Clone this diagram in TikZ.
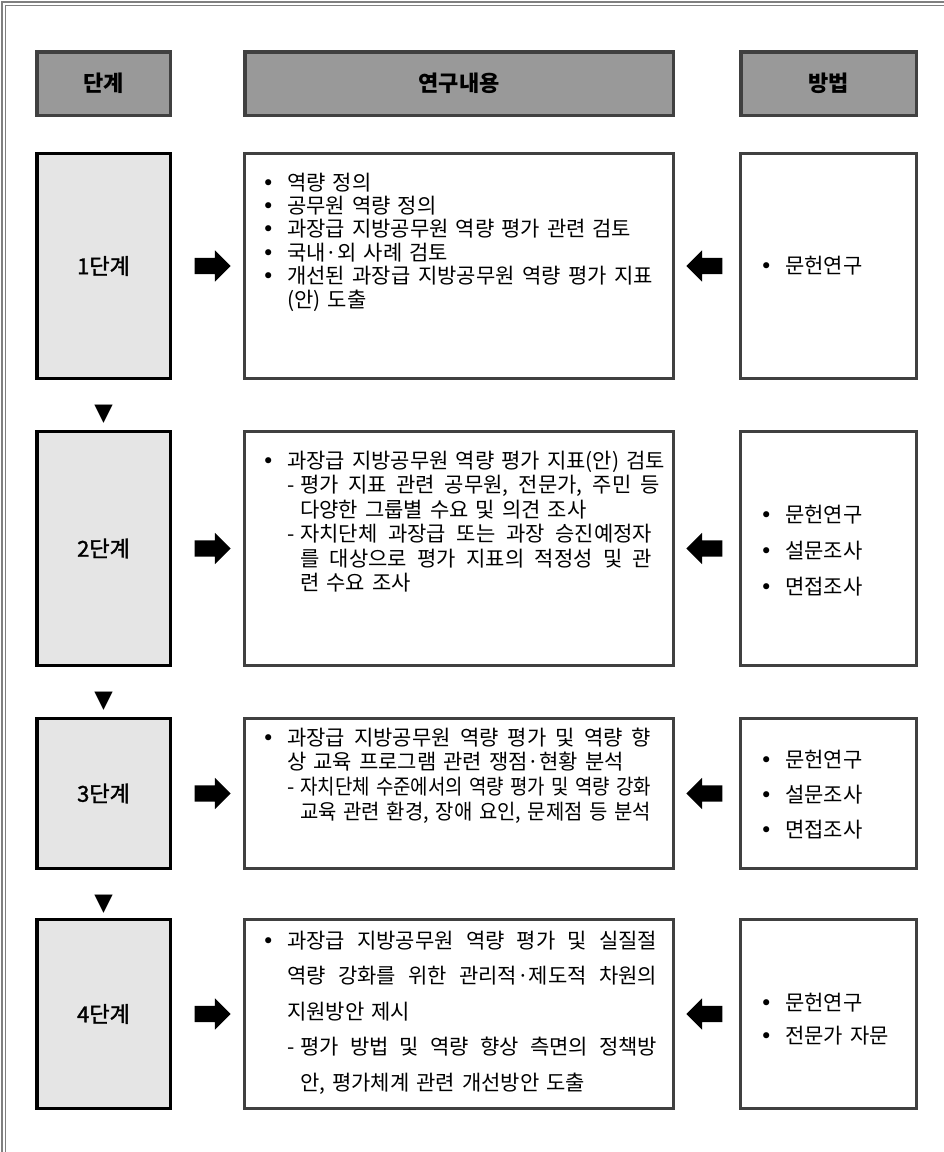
\documentclass[tikz,border=0pt]{standalone}
\usepackage{fontspec}
\usepackage{graphicx}
\setmainfont{Noto Sans CJK KR}
\newfontfamily\symfont{DejaVu Sans}
\newfontfamily\stagefont[FakeBold=1.5]{Noto Sans CJK KR}
\usetikzlibrary{positioning,shapes.arrows}

\definecolor{hdgray}{RGB}{153,153,153}
\definecolor{stgray}{RGB}{229,229,229}
\definecolor{edgegray}{RGB}{64,64,64}
\definecolor{framegray}{RGB}{128,128,128}

\newcommand{\bodyfont}[1]{\fontsize{21}{#1}\selectfont}
\newcommand{\itm}{\leavevmode\llap{\makebox[0pt]{\symfont •}\hspace{19pt}}}
\newcommand{\dsh}{\leavevmode\makebox[13pt][l]{-}}
\newcommand{\ind}{\leavevmode\hspace*{13pt}}
% justified line of a given width
\newcommand{\fitline}[2]{\makebox[#1][s]{\spaceskip=7pt plus 12pt minus 3pt\relax #2}}

\tikzset{
  hdbox/.style={draw=edgegray, fill=hdgray, line width=3.5pt, minimum height=63.5pt, inner sep=0pt, font=\bfseries\fontsize{22}{26}\selectfont},
  stagebox/.style={draw=black, fill=stgray, line width=3.5pt, minimum width=133.5pt, inner sep=0pt, font=\stagefont\fontsize{22}{26}\selectfont},
  contbox/.style={draw=edgegray, line width=3pt, minimum width=429pt, inner sep=0pt},
  methbox/.style={draw=edgegray, line width=3pt, minimum width=176pt, inner sep=0pt},
  bodytext/.style={anchor=base west, inner sep=0pt, text width=400pt, align=left},
  rarrow/.style={single arrow, fill=black, inner sep=0pt, text height=8pt, text depth=8pt, minimum height=36pt, single arrow head extend=7.5pt},
  downtri/.style={font=\symfont\fontsize{24}{24}\selectfont, inner sep=0pt}
}

\begin{document}
\begin{tikzpicture}[x=1pt, y=1pt, node distance=1cm, on grid]
\useasboundingbox (0,0) rectangle (944,-1152);
% frame
\draw[framegray, line width=1.2pt] (2,-1152) -- (2,-2) -- (944,-2);
\draw[framegray, line width=1.2pt] (5.5,-1152) -- (5.5,-5.5) -- (944,-5.5);

% headers
\node[hdbox, minimum width=133.5pt] (h1) at (103.5,-83.5) {단계};
\node[hdbox, minimum width=428.5pt, right=355.5pt of h1] (h2) {연구내용};
\node[hdbox, minimum width=175.5pt, right=369.5pt of h2] (h3) {방법};

% stages
\node[stagebox, minimum height=225pt, below=182.5pt of h1] (s1) {1단계};
\node[stagebox, minimum height=234pt, below=282.5pt of s1] (s2) {2단계};
\node[stagebox, minimum height=150pt, below=245pt of s2] (s3) {3단계};
\node[stagebox, minimum height=189pt, below=220.5pt of s3] (s4) {4단계};

\foreach \s/\t in {s1/t1,s2/t2,s3/t3}
  \node[downtri, below=25pt of \s.south] (\t) {▼};

% content and method boxes
\node[contbox, minimum height=225pt, right=355.5pt of s1] (c1) {};
\node[contbox, minimum height=234pt, right=355.5pt of s2] (c2) {};
\node[contbox, minimum height=150pt, right=355.5pt of s3] (c3) {};
\node[contbox, minimum height=189pt, right=355.5pt of s4] (c4) {};
\node[methbox, minimum height=225pt, right=369.5pt of c1] (m1) {};
\node[methbox, minimum height=234pt, right=369.5pt of c2] (m2) {};
\node[methbox, minimum height=150pt, right=369.5pt of c3] (m3) {};
\node[methbox, minimum height=189pt, right=369.5pt of c4] (m4) {};

% block arrows
\node[rarrow, right=105pt of s1] (r1) {};
\node[rarrow, right=105pt of s2] (r2) {};
\node[rarrow, right=105pt of s3] (r3) {};
\node[rarrow, right=105pt of s4] (r4) {};
\node[rarrow, shape border rotate=180, left=120pt of m1] (l1) {};
\node[rarrow, shape border rotate=180, left=120pt of m2] (l2) {};
\node[rarrow, shape border rotate=180, left=120pt of m3] (l3) {};
\node[rarrow, shape border rotate=180, left=120pt of m4] (l4) {};

% texts
\node[bodytext, font=\bodyfont{23.4}] (c1t) at (287,-190) {\itm 역량 정의\\
  \itm 공무원 역량 정의\\
  \itm 과장급 지방공무원 역량 평가 관련 검토\\
  \itm 국내·외 사례 검토\\
  \itm\fitline{366pt}{개선된 과장급 지방공무원 역량 평가 지표}\\
  (안) 도출};
\node[bodytext, font=\bodyfont{24.5}] (c2t) at (287,-468) {\itm 과장급 지방공무원 역량 평가 지표(안) 검토\\
  \dsh\fitline{360pt}{평가 지표 관련 공무원, 전문가, 주민 등}\\
  \ind 다양한 그룹별 수요 및 의견 조사\\
  \dsh\fitline{352pt}{자치단체 과장급 또는 과장 승진예정자}\\
  \ind\fitline{352pt}{를 대상으로 평가 지표의 적정성 및 관}\\
  \ind 련 수요 조사};
\node[bodytext, font=\bodyfont{24.8}] (c3t) at (287,-745) {\itm\fitline{364pt}{과장급 지방공무원 역량 평가 및 역량 향}\\
  상 교육 프로그램 관련 쟁점·현황 분석\\
  \dsh\resizebox{351pt}{\height}{자치단체 수준에서의 역량 평가 및 역량 강화}\\
  \ind\resizebox{351pt}{\height}{교육 관련 환경, 장애 요인, 문제점 등 분석}};
\node[bodytext, font=\bodyfont{35.5}] (c4t) at (287,-948) {\itm\fitline{370pt}{과장급 지방공무원 역량 평가 및 실질절}\\
  \fitline{370pt}{역량 강화를 위한 관리적·제도적 차원의}\\
  지원방안 제시\\
  \dsh\fitline{357pt}{평가 방법 및 역량 향상 측면의 정책방}\\
  \ind 안, 평가체계 관련 개선방안 도출};

\node[bodytext, text width=120pt, font=\bodyfont{36}] (m1t) at (785,-273) {\itm 문헌연구};
\node[bodytext, text width=120pt, font=\bodyfont{36}] (m2t) at (785,-522) {\itm 문헌연구\\ \itm 설문조사\\ \itm 면접조사};
\node[bodytext, text width=120pt, font=\bodyfont{35}] (m3t) at (785,-767) {\itm 문헌연구\\ \itm 설문조사\\ \itm 면접조사};
\node[bodytext, text width=120pt, font=\bodyfont{33}] (m4t) at (785,-1010) {\itm 문헌연구\\ \itm 전문가 자문};
\end{tikzpicture}
\end{document}
